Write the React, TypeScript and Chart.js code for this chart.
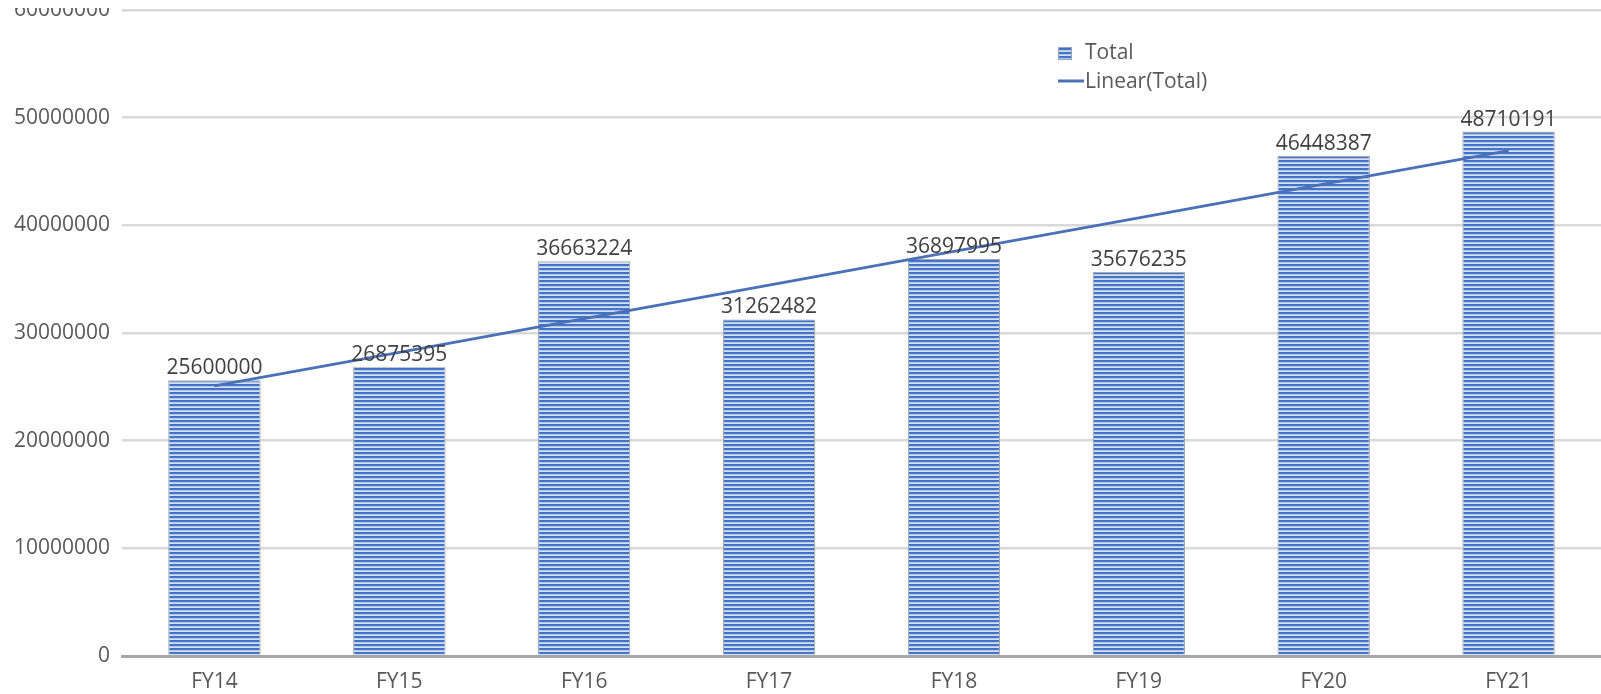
import React, { useEffect, useRef } from "react";
import { Chart, registerables } from "chart.js";

Chart.register(...registerables);

const categories = ["FY14", "FY15", "FY16", "FY17", "FY18", "FY19", "FY20", "FY21"];
const totals = [25600000, 26875395, 36663224, 31262482, 36897995, 35676235, 46448387, 48710191];
const yTicks = [0, 10000000, 20000000, 30000000, 40000000, 50000000, 60000000];
const seriesLabel = "Total";
const trendLabel = "Linear(Total)";

const FONT = "'Open Sans', 'Liberation Sans', sans-serif";
const TEXT = "#595959";
const LINE_COLOR = "#4a70b8";

function linearTrend(values: number[]): number[] {
  const n = values.length;
  const xs = values.map((_, i) => i + 1);
  const mx = xs.reduce((a, b) => a + b, 0) / n;
  const my = values.reduce((a, b) => a + b, 0) / n;
  let sxy = 0;
  let sxx = 0;
  for (let i = 0; i < n; i++) {
    sxy += (xs[i] - mx) * (values[i] - my);
    sxx += (xs[i] - mx) * (xs[i] - mx);
  }
  const slope = sxy / sxx;
  const intercept = my - slope * mx;
  return xs.map((x) => intercept + slope * x);
}

function makePattern(): CanvasPattern | string {
  const c = document.createElement("canvas");
  c.width = 4;
  c.height = 4;
  const ctx = c.getContext("2d");
  if (!ctx) return "#4472c4";
  const rows = ["#4070c4", "#4a78c8", "#b0c5ea", "#d6e1f4"];
  rows.forEach((col, i) => {
    ctx.fillStyle = col;
    ctx.fillRect(0, i, 4, 1);
  });
  const p = ctx.createPattern(c, "repeat");
  return p || "#4472c4";
}

export default function App() {
  const ref = useRef<HTMLCanvasElement | null>(null);

  useEffect(() => {
    document.body.style.margin = "0";
    const canvas = ref.current;
    if (!canvas) return;
    const pattern = makePattern();
    const trend = linearTrend(totals);

    const dataLabels = {
      id: "dataLabels",
      afterDatasetsDraw(chart: any) {
        const meta = chart.getDatasetMeta(1);
        const ctx = chart.ctx;
        ctx.save();
        ctx.font = `21px ${FONT}`;
        ctx.fillStyle = "#404040";
        ctx.textAlign = "center";
        ctx.textBaseline = "alphabetic";
        meta.data.forEach((el: any, i: number) => {
          ctx.fillText(String(totals[i]), el.x, el.y - 6);
        });
        ctx.restore();
      },
    };

    const customLegend = {
      id: "customLegend",
      afterDraw(chart: any) {
        const ctx = chart.ctx;
        ctx.save();
        ctx.fillStyle = pattern as any;
        ctx.fillRect(1058, 47, 14, 13);
        ctx.strokeStyle = "#9aa6bb";
        ctx.lineWidth = 1;
        ctx.strokeRect(1058.5, 47.5, 13, 12);
        ctx.strokeStyle = LINE_COLOR;
        ctx.lineWidth = 3;
        ctx.beginPath();
        ctx.moveTo(1058, 81);
        ctx.lineTo(1084, 81);
        ctx.stroke();
        ctx.font = `21px ${FONT}`;
        ctx.fillStyle = TEXT;
        ctx.textAlign = "left";
        ctx.textBaseline = "middle";
        ctx.fillText(chart.data.datasets[1].label, 1085, 53);
        ctx.fillText(chart.data.datasets[0].label, 1085, 82);
        // the top edge of the picture is cut off in the reference
        ctx.fillStyle = "#ffffff";
        ctx.fillRect(0, 0, 118, 8);
        ctx.restore();
      },
    };

    const chart = new Chart(canvas, {
      type: "bar",
      data: {
        labels: categories,
        datasets: [
          {
            type: "line",
            label: trendLabel,
            data: trend,
            borderColor: LINE_COLOR,
            borderWidth: 2.8,
            pointRadius: 0,
            fill: false,
            tension: 0,
            order: 0,
          } as any,
          {
            type: "bar",
            label: seriesLabel,
            data: totals,
            backgroundColor: pattern as any,
            borderColor: "#a3a9b3",
            borderWidth: 1.2,
            barPercentage: 0.5,
            categoryPercentage: 1,
            order: 1,
          },
        ],
      },
      options: {
        responsive: false,
        animation: false,
        devicePixelRatio: 1,
        layout: { padding: { top: 0, right: 0, bottom: 0, left: 0 } },
        plugins: {
          legend: { display: false },
          tooltip: { enabled: false },
        },
        scales: {
          x: {
            grid: { display: false, drawTicks: false },
            border: { display: true, color: "#a6a6a6", width: 3 },
            ticks: {
              color: TEXT,
              font: { family: FONT, size: 21, lineHeight: 1.2 },
              padding: 13,
              maxRotation: 0,
            },
            afterFit(scale: any) {
              scale.height = 38;
              scale.paddingLeft = 0;
              scale.paddingRight = 0;
            },
          },
          y: {
            min: 0,
            max: 60000000,
            afterBuildTicks(scale: any) {
              scale.ticks = yTicks.map((v) => ({ value: v }));
            },
            grid: { color: "#d9d9d9", lineWidth: 2.5, drawTicks: false },
            border: { display: false },
            ticks: {
              color: TEXT,
              font: { family: FONT, size: 21, lineHeight: 1.2 },
              padding: 12,
              callback: (v: any) => String(v),
            },
            afterFit(scale: any) {
              scale.width = 122;
              scale.paddingTop = 10;
              scale.paddingBottom = 0;
            },
          },
        },
      },
      plugins: [dataLabels, customLegend],
    });

    return () => chart.destroy();
  }, []);

  return (
    <div style={{ width: 1601, height: 694, background: "#fff" }}>
      <canvas ref={ref} width={1601} height={694} style={{ display: "block" }} />
    </div>
  );
}
